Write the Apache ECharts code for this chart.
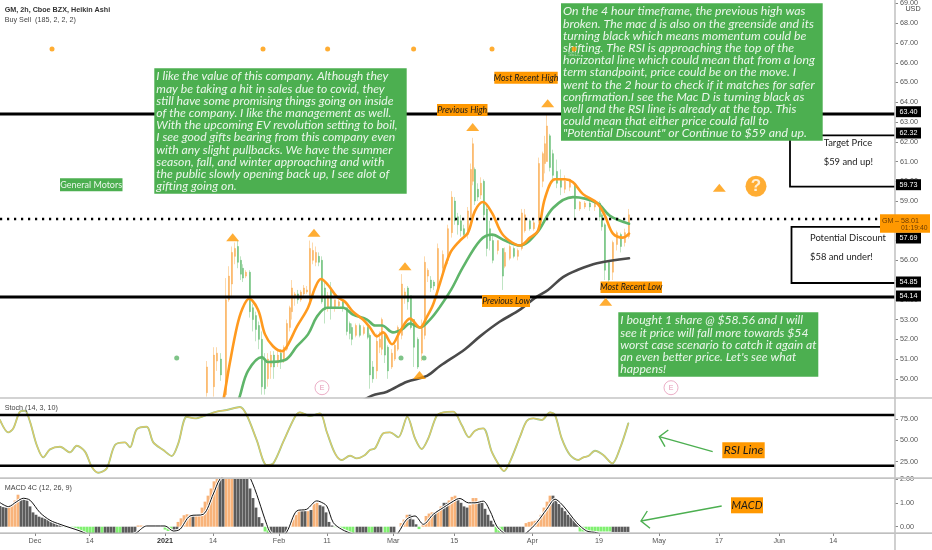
<!DOCTYPE html>
<html><head><meta charset="utf-8">
<style>html,body{margin:0;padding:0;background:#fff}#c{width:932px;height:550px}</style>
<script src="https://cdn.jsdelivr.net/npm/echarts@6/dist/echarts.min.js"></script>
</head><body><div id="c"></div><script>
// ---------- data ----------
const xTickPos=[35,89.7,165,213,279,327,393.3,454.3,532.3,599,659,719,779.3,833.3];
const xTickLabels=['Dec','14','2021','14','Feb','11','Mar','15','Apr','19','May','17','Jun','14'];
const priceTicks=[50,51,52,53,54,55,56,57,58,59,60,61,62,63,64,65,66,67,68,69];
const stochTicks=[25,50,75];
const macdTicks=[0,1,2];
// x, open, close, low, high
const candles=[[207,49.3,50.6,49.1,50.9],[214,49.6,51.2,49.1,51.6],[217,50.9,51.3,50.4,51.6],[221,51,50.2,49.9,51.3],[226,49.2,54,49.1,55.1],[229,54,55.2,53.9,55.7],[232,54.8,56.4,54.2,56.7],[235,56.2,56.6,55.8,56.9],[238,56.7,55.9,55.6,57],[241,56,55.3,55,56.2],[243,55.6,55.1,54.9,55.8],[246,55.2,55.4,55.1,55.5],[250,55.4,53.4,53.1,55.5],[253,53.6,53,52.4,53.8],[256,53.2,52.5,51.9,53.4],[259,52.7,52,51.5,52.9],[262,52,49.6,49.2,52.4],[265,51,49.5,49.2,51.3],[268,50,51,49.6,51.3],[271,50.6,51.2,50,51.4],[274,51.2,50.6,50,51.4],[278,50.8,51.2,50.6,51.5],[281,51.3,50.9,50.5,51.5],[284,51,51.6,50.8,51.7],[287,51.5,52.8,51.4,53],[290,52.6,53.6,52.4,53.7],[292,53.4,54.6,53,55],[295,54.2,54.3,53.7,54.4],[298,54.3,54,53.8,54.5],[301,54,54.4,53.9,54.5],[304,54.3,54.6,54.2,54.75],[307,54.4,54.5,54.3,54.7],[310,54,56.6,53.9,57],[313,56,56.5,55.8,56.9],[316,55.9,56.4,55.7,56.7],[319,56.2,55.9,55.7,56.4],[322,56,53.9,53.8,56.2],[325,54.6,53.5,52.8,55],[328,53.6,54.2,53.4,54.4],[331,54.6,53.6,53,54.9],[335,53.6,54,53.4,54],[339,53.7,53.9,53.6,54],[343,53.9,53.6,53.4,54],[347,53.6,52.4,52.2,53.6],[350,52.8,52.3,52,52.9],[352,52.6,52,51.7,52.8],[356,52.2,52.7,52.1,52.8],[360,52.7,52.2,52.1,52.8],[364,52.3,52.6,52.2,52.7],[368,52.6,52.1,52,52.7],[370,52.2,50.2,49.5,52.3],[373,50.6,50,49.8,50.9],[377,50.4,51.9,50,52.3],[380,51.6,52,51.3,52.4],[382,51.5,53,51.2,53.1],[385,52.2,51.2,50.8,52.3],[388,51.6,50.4,50,51.7],[392,50.6,51.3,50.5,51.5],[395,51,51.7,50.9,51.9],[398,51.5,52.6,51.4,52.7],[402,52.2,54.8,52,55.3],[405,54.1,54.4,53.8,54.6],[408,54.6,53.9,53.5,54.7],[411,54.2,52.6,52.5,54.2],[414,53,51.6,50.6,53],[418,52,50.6,50.5,52.1],[422,51.3,52.6,50.9,53],[425,52.2,55.9,52,56.2],[428,55.2,55.5,54.9,55.6],[431,55,54.6,54.4,55.2],[434,54.9,54.7,54.5,55],[438,54.6,56.6,54.5,56.85],[443,55.6,56.3,55.4,56.5],[448,56,57.6,55.8,57.8],[452,57.4,59.2,57.15,59.5],[455,59,58,57.8,59.2],[458,58.2,57.8,57.3,58.4],[461,58,57.5,57.2,58.3],[464,57.6,57.3,57.1,57.8],[468,57.3,58.5,57.1,58.7],[471,58.2,60.6,58.1,60.9],[473,60,61.9,59.8,62.2],[475,60.6,59,58.8,60.7],[478,59.6,59.2,59,59.9],[481,59.3,59.9,59.1,60.2],[484,60,58.3,58.1,60.1],[487,58.6,56.6,56.2,58.9],[490,57.6,57,56.5,58],[493,57,56,55.85,57.3],[498,56.5,57,56.3,57],[503,56.6,55.2,54.5,56.6],[505,55.7,56.4,55.6,56.65],[510,56.1,56.7,56,56.85],[514,56.6,56.2,56.1,56.7],[518,56.2,56.5,56,56.6],[522,56.6,58.4,56.5,58.6],[525,57.5,58.3,57.4,58.6],[530,58,57.6,57.5,58.1],[534,57.6,57.9,57.5,58],[539,58,60.9,57.9,61.2],[543,60,61.4,59.7,61.5],[545,60.9,61.9,60.4,62.3],[547,61,62.8,61,63.4],[550,62.3,60.7,60.5,62.4],[553,61.4,60.3,60,61.6],[557,60.5,59.9,59.65,61.1],[561,60.1,59.7,59.3,60.6],[565,59.6,60,59.4,60.3],[570,59.7,60.1,59.5,60.1],[575,59.9,58.6,58.15,59.9],[580,58.6,58.95,58.5,59],[585,58.7,58.9,58.6,59],[590,58.9,58.7,58.5,59],[595,58.7,58.9,58.5,59],[600,58.9,58.2,58,59],[602,58.3,57.7,57.5,58.4],[605,57.8,55.5,55,57.9],[609,55.9,55,54.7,56],[613,55.4,56.9,55,57],[617,56.8,57.4,56.5,57.5],[621,57.3,56.7,56.4,57.4],[625,56.9,57.4,56.7,57.6],[629,57.2,58.3,57.1,58.6]];
const emaFast=[[218,47.5],[224,49.1],[230,50.85],[237,52.65],[242,53.5],[249,54.05],[258,53.5],[265,52.25],[273,51.65],[282,51.4],[287,51.65],[297,52.65],[308,53.6],[315,54.6],[321,55.05],[328,54.75],[337,54.15],[345,53.9],[353,53.4],[363,53],[370,52.6],[377,52.15],[383,52.35],[392,51.75],[400,52.4],[410,53.05],[420,52.6],[427,53.15],[433,53.75],[440,54.85],[450,56.35],[460,57],[468,57.4],[475,58.5],[483,58.95],[492,58.4],[502,57.35],[512,56.9],[520,56.75],[530,57.15],[538,57.5],[545,59.15],[555,60.1],[565,60.1],[573,59.95],[583,59.35],[597,58.9],[605,58.25],[613,57.35],[623,57.15],[629,57.35]];
const emaSlow=[[232,47.8],[240,49.15],[248,50.4],[262,51.1],[268,50.85],[285,50.95],[297,51.65],[308,52.25],[317,53.15],[327,53.6],[343,53.6],[353,53.25],[367,53],[375,52.7],[382,52.7],[393,52.35],[402,52.5],[410,52.8],[420,52.6],[430,53],[440,53.65],[451,54.5],[463,55.65],[480,57],[492,57.3],[505,57],[520,56.75],[537,57.4],[553,58.65],[573,59.2],[597,58.9],[610,58.25],[629,57.85]];
const emaLong=[[350,48.5],[372,49.15],[387,49.35],[407,49.85],[427,50.15],[440,50.65],[465,51.5],[480,52.15],[500,52.9],[520,53.5],[535,54.1],[548,54.5],[563,55.15],[577,55.5],[597,55.85],[629,56.1]];
const arrowsUp=[[232.7,57.17],[314,57.4],[405,55.7],[419.5,50.2],[472.7,62.75],[547.7,63.95],[605.7,53.9],[719.3,59.67]];
const orangeDots=[[52,66.7],[263,66.7],[327.6,66.7],[413.6,66.7],[492,66.7],[574,66.7]];
const greenDots=[[176.7,51.05],[401,51.05],[424,51.05]];
const earnings=[[322,49.55],[671,49.55]];
const questionMark=[[756,59.75]];
const lastPrice=58.09;
const fullLevels=[63.40,54.14];
const targetBox=[[895,62.32],[790,62.32],[790,59.73],[895,59.73]];
const discountBox=[[895,57.69],[791.5,57.69],[791.5,54.85],[790,54.85],[895,54.85]];
const stochLevels=[79.7,20.2];
const stoch=[[0,73.8],[8.3,59.3],[13.3,64],[20,83.6],[25,84.7],[30,71.8],[36.7,44.5],[43.3,30],[50,39.4],[60,42.5],[70,35.9],[76.7,43.7],[85,36.7],[91.7,19.1],[98.3,12],[106.7,17.1],[115,44.5],[125,47.6],[130,41.7],[136.7,62.8],[146.7,66],[153.3,47.6],[163.3,38.6],[171.7,31.6],[178.3,46.4],[186.7,77.7],[195,75.7],[205,78.9],[216.7,83.6],[226.7,85.5],[240,89],[246.7,79.7],[256.7,50.3],[266.7,21],[273.3,23],[283.3,48.4],[295,77.7],[300,82.8],[310,78.5],[320,81.6],[326.7,60.1],[335,34.7],[341.7,26.9],[350,32],[356.7,28.8],[365,32.8],[370,38.6],[375,40.6],[383.3,58.2],[390,59.3],[398.3,53.5],[407.3,77.7],[415,52.3],[421.7,39.8],[428.3,52.3],[436.7,78.9],[443.3,82.8],[453.3,83.6],[461.7,67.9],[469,53.5],[475,61.3],[483.3,64],[491.7,36.7],[500,19.1],[504,14],[510,25],[520,54.2],[526.7,72.6],[533.3,75.7],[541.7,73.8],[550,82.8],[555,79.7],[561.7,52.3],[570,32.8],[578.3,26.9],[583.3,30],[588.3,31.6],[595,37.8],[603.3,32.8],[612.3,23],[620,40.6],[628.3,69.9]];
const histRising=[[9,.85],[12,.9],[15,1.1],[18,1.34],[138,.05],[141,.05],[144,.04],[178,.2],[181,.35],[184,.48],[187,.52],[190,.5],[196,.45],[199,.5],[202,.8],[205,1.05],[208,1.3],[211,1.6],[214,1.9],[217,2.1],[226,2.3],[229,2.3],[232,2.3],[290,.02],[293,.3],[296,.5],[299,.65],[308,.65],[314,.95],[317,1],[401,.15],[404,.3],[407,.5],[423,.15],[426,.45],[429,.55],[432,.6],[438,.65],[441,.85],[449,1.1],[452,1.25],[455,1.3],[470,.9],[473,1.2],[476,1.2],[526,.15],[529,.2],[532,.22],[535,.25],[538,.3],[541,.5],[544,.8],[547,1.05],[550,1.3]];
const histFalling=[[0,.87],[3,.82],[6,.8],[21,1.2],[24,1.2],[27,1.1],[30,.85],[33,.6],[36,.5],[39,.42],[42,.38],[45,.34],[48,.28],[51,.24],[54,.2],[57,.16],[60,.12],[63,.06],[96,-.28],[99,-.28],[105,-.28],[108,-.28],[111,-.28],[114,-.28],[123,-.28],[126,-.28],[129,-.28],[132,-.28],[135,-.22],[147,.02],[150,.02],[153,.02],[156,.02],[159,.02],[162,.02],[174,-.18],[177,-.12],[193,.45],[220,2],[223,2.1],[235,2.3],[238,2.3],[241,2.3],[244,2.3],[247,2],[250,1.6],[253,1.2],[256,.8],[259,.4],[262,.15],[271,-.28],[274,-.28],[277,-.28],[280,-.28],[283,-.28],[286,-.28],[302,.65],[305,.65],[311,.7],[320,.9],[323,.85],[326,.6],[329,.2],[332,.05],[357,-.25],[360,-.25],[363,-.25],[366,-.25],[375,-.25],[378,-.25],[381,-.25],[391,-.25],[394,-.25],[410,.5],[413,.3],[416,.1],[435,.6],[444,1],[447,1],[458,1.15],[461,1],[464,.85],[467,.8],[479,1.05],[482,1],[485,.75],[488,.5],[491,.25],[493,.1],[505,-.25],[508,-.25],[511,-.25],[514,-.25],[517,-.25],[520,-.25],[523,-.25],[553,1.3],[556,1.1],[559,.95],[562,.8],[565,.65],[568,.5],[571,.4],[574,.27],[576,.17],[578,.08],[613,-.22],[616,-.22],[619,-.22],[622,-.22],[625,-.22],[628,-.22]];
const histNegRising=[[66,-.03],[69,-.05],[72,-.08],[75,-.12],[78,-.18],[81,-.25],[84,-.28],[87,-.28],[90,-.28],[93,-.28],[102,-.28],[117,-.28],[120,-.28],[165,-.12],[168,-.18],[171,-.18],[265,-.2],[268,-.28],[335,-.02],[338,-.05],[341,-.12],[344,-.18],[347,-.22],[350,-.25],[353,-.28],[369,-.25],[372,-.25],[385,-.25],[388,-.25],[419,-.1],[496,-.25],[499,-.25],[502,-.25],[580,-.2],[583,-.2],[586,-.2],[589,-.2],[592,-.2],[595,-.2],[598,-.2],[601,-.2],[604,-.2],[607,-.2],[610,-.2]];
const macdLine=[[0,1.01],[8.3,.84],[16.7,1.05],[23.3,1.19],[30,1.11],[40,.59],[50,.27],[60,.1],[70,-.04],[80,-.18],[87.3,-.32],[100,-.7],[120,-.7],[136.7,-.25],[146.7,.03],[165,.03],[173.3,-.18],[180,-.11],[190,.45],[203.3,.52],[213.3,1.37],[220,2],[226.7,2.15],[240,2.4],[250,2.06],[266.7,.1],[270,-.22],[278,-.5],[286.7,-.22],[296.7,.66],[306.7,.73],[316.7,1.08],[320,1.05],[326.7,.87],[333.3,.17],[341.7,-.11],[353.3,-.32],[370,-.6],[390,-.6],[398.3,-.25],[406.7,.31],[415,.45],[423.3,.1],[433.3,.52],[443.3,.8],[456.7,1.15],[460,1.18],[468.3,1],[475,1],[483.3,1.07],[490,.66],[496.7,.03],[503.3,-.25],[515,-.6],[526.7,-.25],[536.7,.17],[546.7,.73],[555,1.15],[563.3,.87],[576.7,.17],[586.7,-.18],[596.7,-.25],[605,-.4]];
const box1Lines=['I like the value of this company. Although they','may be taking a hit in sales due to covid, they','still have some promising things going on inside','of the company. I like the management as well.','With the upcoming EV revolution setting to boil,','I see good gifts bearing from this company even','with any slight pullbacks. We have the summer','season, fall, and winter approaching and with','the public slowly opening back up, I see alot of','gifting going on.'];
const box2Lines=['On the 4 hour timeframe, the previous high was','broken. The mac d is also on the greenside and its','turning black which means momentum could be','shifting. The RSI is approaching the top of the','horizontal line which could mean that from a long','term standpoint, price could be on the move. I','went to the 2 hour to check if it matches for safer','confirmation.I see the Mac D is turning black as','well and the RSI line is already at the top. This','could mean that either price could fall to','"Potential Discount" or Continue to $59 and up.'];
const box3Lines=['I bought 1 share @ $58.56 and I will','see it price will fall more towards $54','worst case scenario to catch it again at','an even better price. Let\'s see what','happens!'];

// ---------- styles ----------
const ORANGE='#ff9800',GREEN='#4caf50',TXT='#555',F='"Liberation Sans",Arial,sans-serif',BOX='Lato,"Open Sans",sans-serif';
const W=895;
const xBase=(i,extra)=>Object.assign({type:'value',gridIndex:i,min:0,max:W,show:true,axisLine:{show:false,onZero:false},axisTick:{show:false},axisLabel:{show:false},splitLine:{show:false}},extra||{});
const yBase=(i,min,max,ticks)=>({type:'value',gridIndex:i,position:'right',min,max,scale:true,
  axisLine:{show:false,onZero:false},splitLine:{show:false},
  axisTick:{show:true,length:3,lineStyle:{color:'#888'},customValues:ticks,inside:false},
  axisLabel:{show:true,color:TXT,fontSize:7.2,fontFamily:F,margin:5,customValues:ticks,formatter:v=>v.toFixed(2),hideOverlap:false,showMinLabel:true,showMaxLabel:true}});
const hLine=(vals,xi,width,color,type)=>vals.map(v=>({type:'line',xAxisIndex:xi,yAxisIndex:xi,data:[[0,v],[W,v]],showSymbol:false,silent:true,z:5,lineStyle:{color:color||'#000',width,type:type||'solid',cap:'butt'}}));
const curve=(data,xi,color,width,z,smooth)=>({type:'line',xAxisIndex:xi,yAxisIndex:xi,data,showSymbol:false,smooth:smooth==null?0.35:smooth,silent:true,z:z||4,lineStyle:{color,width,cap:'round',join:'round'}});
const bars=(data,color)=>({type:'bar',xAxisIndex:2,yAxisIndex:2,data,barWidth:2.8,barGap:'-100%',silent:true,itemStyle:{color},z:2});
const dots=(data,symbol,size,color,extra)=>Object.assign({type:'scatter',xAxisIndex:0,yAxisIndex:0,data,symbol,symbolSize:size,silent:true,z:6,itemStyle:{color}},extra||{});

// ---------- annotation helpers (screen furniture) ----------
const g=[];
const rect=(x,y,w,h,fill,z)=>g.push({type:'rect',z:z||100,silent:true,shape:{x,y,width:w,height:h},style:{fill}});
const text=(x,y,t,o)=>g.push({type:'text',z:(o&&o.z)||101,silent:true,x,y,style:Object.assign({text:t,fill:'#333',font:'7.2px '+F,textAlign:'left',textVerticalAlign:'middle'},o||{})});
const poly=(pts,color,w)=>g.push({type:'polyline',z:101,silent:true,shape:{points:pts},style:{stroke:color,lineWidth:w,fill:null}});
function noteBox(x,y,w,h,lines,firstY,lh,size){rect(x,y,w,h,GREEN);lines.forEach((l,i)=>text(x+2,firstY+i*lh,l,{fill:'#eaf6ea',font:'italic '+size+'px '+BOX}));}
function tag(x,y,w,h,t,size){rect(x,y,w,h,ORANGE);text(x+w/2,y+h/2,t,{fill:'#1a1a1a',textAlign:'center',font:'italic '+size+'px '+BOX});}
function priceTag(y,t){rect(896,y-5.5,25,11,'#000',102);text(908.5,y,t,{fill:'#fff',textAlign:'center',z:103});}

noteBox(154.3,68.3,252.4,125.4,box1Lines,76.5,12.2,12.2);
noteBox(561,3.3,261.7,137.4,box2Lines,11.5,12.2,12.3);
noteBox(618.3,312.3,200,64.4,box3Lines,320.5,12.2,12.2);
rect(60,178.3,62.5,13,GREEN);text(91.2,185,'General Motors',{fill:'#eaf6ea',textAlign:'center',font:'9px '+BOX});
text(574,55,'SELL',{fill:'#a6d8a8',textAlign:'center',font:'5px '+F,z:102});
tag(437,104,50.5,12,'Previous High',8.8);
tag(494.3,71.7,63.4,12,'Most Recent High',8.8);
tag(482,295,48,12,'Previous Low',8.8);
tag(600.5,281.5,61.5,11.5,'Most Recent Low',8.8);
tag(722.3,442.3,42.4,16,'RSI Line',12);
tag(731,497.3,32,16,'MACD',11);
text(823.7,143,'Target Price',{fill:'#222',font:'9.4px '+BOX});
text(823.7,162,'$59 and up!',{fill:'#222',font:'9.4px '+BOX});
text(810,238,'Potential Discount',{fill:'#222',font:'9.4px '+BOX});
text(810,257,'$58 and under!',{fill:'#222',font:'9.4px '+BOX});
text(4.7,10,'GM, 2h, Cboe BZX, Heikin Ashi',{fill:'#333',font:'bold 7.2px '+F});
text(4.7,20,'Buy Sell  (185, 2, 2, 2)',{fill:'#444'});
text(4.7,408,'Stoch (14, 3, 10)',{fill:'#444'});
text(4.7,488.5,'MACD 4C (12, 26, 9)',{fill:'#444'});
text(913,9,'USD',{textAlign:'center',fill:'#444'});
poly([[712.7,451.7],[659.3,436.7]],GREEN,1.4);poly([[668.3,430],[659.3,436.7],[665,446.7]],GREEN,1.4);
poly([[721.7,506],[641,521]],GREEN,1.4);poly([[647.3,511],[641,521],[650,528.3]],GREEN,1.4);
// pane dividers and price axis line
rect(0,397.2,932,1.6,'#c4c4c4',50);rect(0,477.3,932,1.6,'#c4c4c4',50);rect(0,532.5,932,1.2,'#aaa',50);rect(894.2,0,1.6,550,'#c4c4c4',51);
priceTag(111.7,'63.40');priceTag(133,'62.32');priceTag(184.7,'59.73');priceTag(238,'57.69');priceTag(282,'54.85');priceTag(296,'54.14');
rect(880,214.3,50,18.4,ORANGE,104);
text(882,221,'GM',{fill:'#6e3c00',z:105});text(895,221,'–',{fill:'#6e3c00',z:105});
text(901,221,'58.01',{fill:'#6e3c00',z:105});text(901,228,'01:19:40',{fill:'#6e3c00',z:105,font:'6.8px '+F});

const chart=echarts.init(document.getElementById('c'),null,{renderer:'canvas'});
chart.setOption({
 animation:false,backgroundColor:'#fff',
 grid:[{left:0,top:0,width:W,height:397},{left:0,top:399,width:W,height:79},{left:0,top:478,width:W,height:55}],
 xAxis:[xBase(0),xBase(1),xBase(2,{
   axisTick:{show:true,length:3,lineStyle:{color:'#888'},customValues:xTickPos},
   axisLabel:{show:true,margin:5,fontSize:7.2,color:TXT,fontFamily:F,customValues:xTickPos,hideOverlap:false,showMinLabel:true,showMaxLabel:true,
     formatter:v=>{const i=xTickPos.indexOf(v);const t=xTickLabels[i]||'';return t==='2021'?'{b|2021}':t;},
     rich:{b:{fontWeight:'bold',fontSize:7.2,color:'#333',fontFamily:F}}}})],
 yAxis:[yBase(0,49.08,69.0,priceTicks),yBase(1,5.83,98.45,stochTicks),yBase(2,-0.264,2.04,macdTicks)],
 graphic:{elements:g},
 series:[
  {type:'candlestick',xAxisIndex:0,yAxisIndex:0,data:candles,encode:{x:0,y:[1,2,3,4]},barWidth:1.2,silent:true,z:2,
   itemStyle:{color:'#fdd9ac',color0:'#bfe4c3',borderColor:'#fdd9ac',borderColor0:'#bfe4c3',borderWidth:1}},
  {type:'candlestick',xAxisIndex:0,yAxisIndex:0,data:candles.map(r=>[r[0],r[1],r[2],Math.min(r[1],r[2]),Math.max(r[1],r[2])]),encode:{x:0,y:[1,2,3,4]},barWidth:2.4,silent:true,z:3,
   itemStyle:{color:'#fbb25e',color0:'#6cc07a',borderColor:'#fbb25e',borderColor0:'#6cc07a',borderWidth:0.5}},
  curve(emaLong,0,'#4a4a4a',2.6,4),curve(emaSlow,0,'#5fb56a',2.6,4),curve(emaFast,0,'#ff9a1f',2.6,4),
  ...hLine(fullLevels,0,3),
  {type:'line',xAxisIndex:0,yAxisIndex:0,data:[[0,lastPrice],[880,lastPrice]],showSymbol:false,silent:true,z:5,lineStyle:{color:'#000',width:2.4,type:[2.2,4.8]}},
  {type:'line',xAxisIndex:0,yAxisIndex:0,data:targetBox,showSymbol:false,silent:true,z:5,lineStyle:{color:'#000',width:1.8,join:'miter'}},
  {type:'line',xAxisIndex:0,yAxisIndex:0,data:discountBox,showSymbol:false,silent:true,z:5,lineStyle:{color:'#000',width:1.8,join:'miter'}},
  dots(arrowsUp,'triangle',[13,8],ORANGE),
  dots(orangeDots,'circle',5,ORANGE,{z:200}),
  dots(greenDots,'circle',5,'#5fb56a'),
  dots(earnings,'circle',14,'#fff',{itemStyle:{color:'#fff',borderColor:'#e69ab8',borderWidth:1},label:{show:true,position:'inside',formatter:'E',color:'#e07fa5',fontSize:7,fontFamily:F}}),
  dots(questionMark,'circle',21,ORANGE,{label:{show:true,position:'inside',formatter:'?',color:'#fff',fontSize:17,fontWeight:'bold',fontFamily:F}}),
  ...hLine(stochLevels,1,2.4),
  curve(stoch,1,'#8cc996',1.9,3,0.3),curve(stoch,1,'#e3c765',1.2,4,0.3),
  bars(histRising,'#f8b37a'),bars(histFalling,'#5c5c5c'),bars(histNegRising,'#80f070'),
  curve(macdLine,2,'#ffffff',2.8,4,0.3),curve(macdLine,2,'#111',1,5,0.3)
 ]
});
</script></body></html>
